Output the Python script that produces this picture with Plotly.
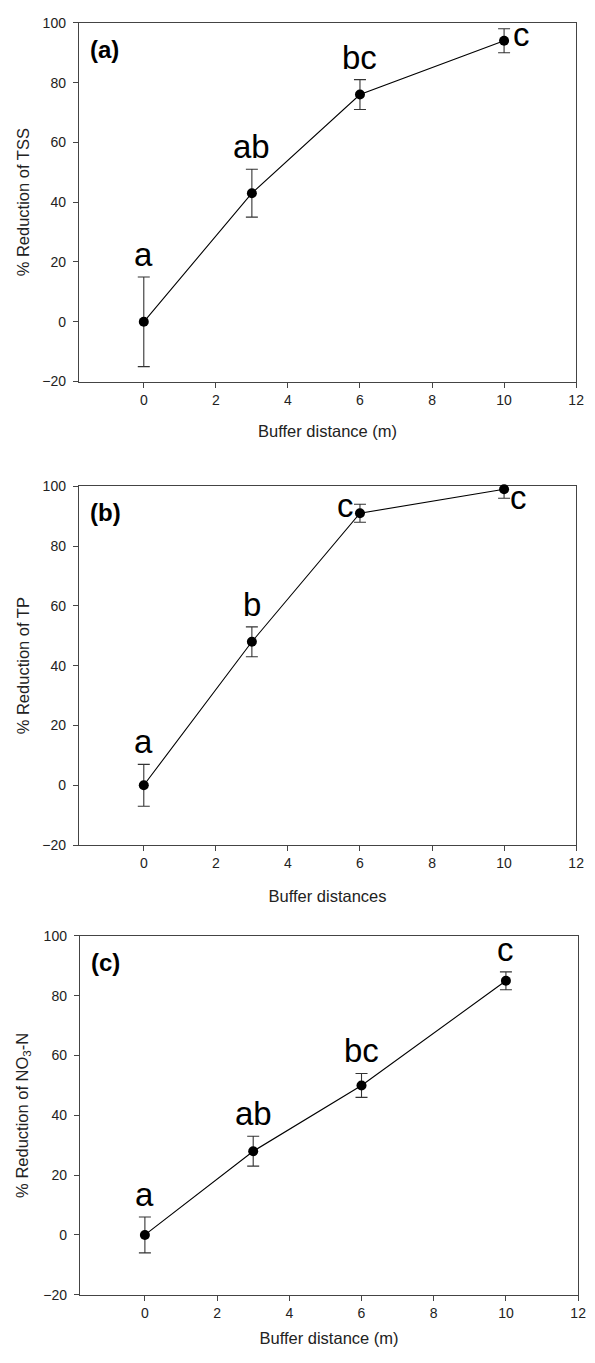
import plotly.graph_objects as go

# ---------------- data ----------------
distances = [0, 3, 6, 10]

tss_mean = [0, 43, 76, 94]
tss_err = [15, 8, 5, 4]
tss_letters = ["a", "ab", "bc", "c"]

tp_mean = [0, 48, 91, 99]
tp_err = [7, 5, 3, 3]
tp_letters = ["a", "b", "c", "c"]

no3_mean = [0, 28, 50, 85]
no3_err = [6, 5, 4, 3]
no3_letters = ["a", "ab", "bc", "c"]

panel_tags = ["(a)", "(b)", "(c)"]
y_titles = ["% Reduction of TSS", "% Reduction of TP", "% Reduction of NO<sub>3</sub>-N"]
x_titles = ["Buffer distance (m)", "Buffer distances", "Buffer distance (m)"]
x_ticks = [0, 2, 4, 6, 8, 10, 12]
y_ticks = [-20, 0, 20, 40, 60, 80, 100]

# ---------------- layout helpers ----------------
W, H = 595, 1363
FONT = "Arial, 'Liberation Sans', Helvetica, sans-serif"
AXC = "#444444"
TXT = "#222222"

# pixel boxes (left, right, top, bottom)
boxes = [(80, 584, 15, 378), (80, 584, 484, 847), (81, 586, 939, 1302)]
x_standoff = [18, 20, 12]
y_standoff = [8, 8, 10]

# label placement: (xanchor, yanchor, use_top_of_error, xshift, yshift)
placements = [
    [("center", "bottom", True, 0, 2), ("center", "bottom", True, 0, 2),
     ("center", "bottom", True, 0, 2), ("left", "middle", False, 7, 6)],
    [("center", "bottom", True, 0, 2), ("center", "bottom", True, 0, 2),
     ("right", "middle", False, -4, 8), ("left", "middle", False, 4, -8)],
    [("center", "bottom", True, 0, 2), ("center", "bottom", True, 0, 2),
     ("center", "bottom", True, 0, 2), ("center", "bottom", True, 0, 2)],
]

series = [(tss_mean, tss_err, tss_letters),
          (tp_mean, tp_err, tp_letters),
          (no3_mean, no3_err, no3_letters)]

fig = go.Figure()
annotations = []

for i, ((mean, err, letters), box) in enumerate(zip(series, boxes)):
    n = i + 1
    xa = "x" if n == 1 else f"x{n}"
    ya = "y" if n == 1 else f"y{n}"
    l, r, t, b = box
    # line + error bars (clipped)
    fig.add_trace(go.Scatter(
        x=distances, y=mean, mode="lines",
        line=dict(color="black", width=1.1),
        error_y=dict(type="data", array=err, visible=True,
                     color="#333333", thickness=1.1, width=6),
        xaxis=xa, yaxis=ya, showlegend=False, cliponaxis=True,
    ))
    # markers (not clipped)
    fig.add_trace(go.Scatter(
        x=distances, y=mean, mode="markers",
        marker=dict(color="black", size=10, line=dict(width=0)),
        xaxis=xa, yaxis=ya, showlegend=False, cliponaxis=False,
    ))

    axkey = "xaxis" if n == 1 else f"xaxis{n}"
    aykey = "yaxis" if n == 1 else f"yaxis{n}"
    fig.update_layout(**{
        axkey: dict(
            domain=[l / W, r / W], anchor=ya, range=[-1.8, 12],
            tickmode="array", tickvals=x_ticks, ticks="outside", ticklen=5,
            tickwidth=1.2, tickcolor=AXC, showline=True, linecolor=AXC,
            linewidth=1.3, mirror=True, showgrid=False, zeroline=False,
            tickfont=dict(family=FONT, size=14, color=TXT),
            ticklabeloverflow="allow",
            title=dict(text=x_titles[i], font=dict(family=FONT, size=16.5, color=TXT),
                       standoff=x_standoff[i]),
            layer="below traces",
        ),
        aykey: dict(
            domain=[1 - b / H, 1 - t / H], anchor=xa, range=[-20, 100],
            tickmode="array", tickvals=y_ticks, ticks="outside", ticklen=5,
            tickwidth=1.2, tickcolor=AXC, showline=True, linecolor=AXC,
            linewidth=1.3, mirror=True, showgrid=False, zeroline=False,
            tickfont=dict(family=FONT, size=14, color=TXT),
            ticklabelstandoff=4,
            ticklabeloverflow="allow",
            title=dict(text=y_titles[i], font=dict(family=FONT, size=16.5, color=TXT),
                       standoff=y_standoff[i]),
            layer="below traces",
        ),
    })

    # significance letters
    for xv, m, e, lab, pl in zip(distances, mean, err, letters, placements[i]):
        xanc, yanc, use_top, xs, ys = pl
        annotations.append(dict(
            x=xv, y=(m + e) if use_top else m, xref=xa, yref=ya,
            text=lab, showarrow=False, xanchor=xanc, yanchor=yanc,
            xshift=xs, yshift=ys,
            font=dict(family=FONT, size=33, color="black"),
        ))

    # panel tag
    annotations.append(dict(
        x=0.018, y=1, xref=f"{xa} domain", yref=f"{ya} domain",
        text=f"<b>{panel_tags[i]}</b>", showarrow=False,
        xanchor="left", yanchor="top", yshift=-11,
        font=dict(family=FONT, size=24, color="black"),
    ))

fig.update_layout(
    width=W, height=H,
    margin=dict(l=0, r=0, t=0, b=0),
    paper_bgcolor="white", plot_bgcolor="white",
    annotations=annotations,
    showlegend=False,
)

fig.write_html(
    "out.html",
    config={"displayModeBar": False},
    post_script="document.body.style.margin='0';document.body.style.padding='0';"
                "document.documentElement.style.overflow='hidden';",
)
